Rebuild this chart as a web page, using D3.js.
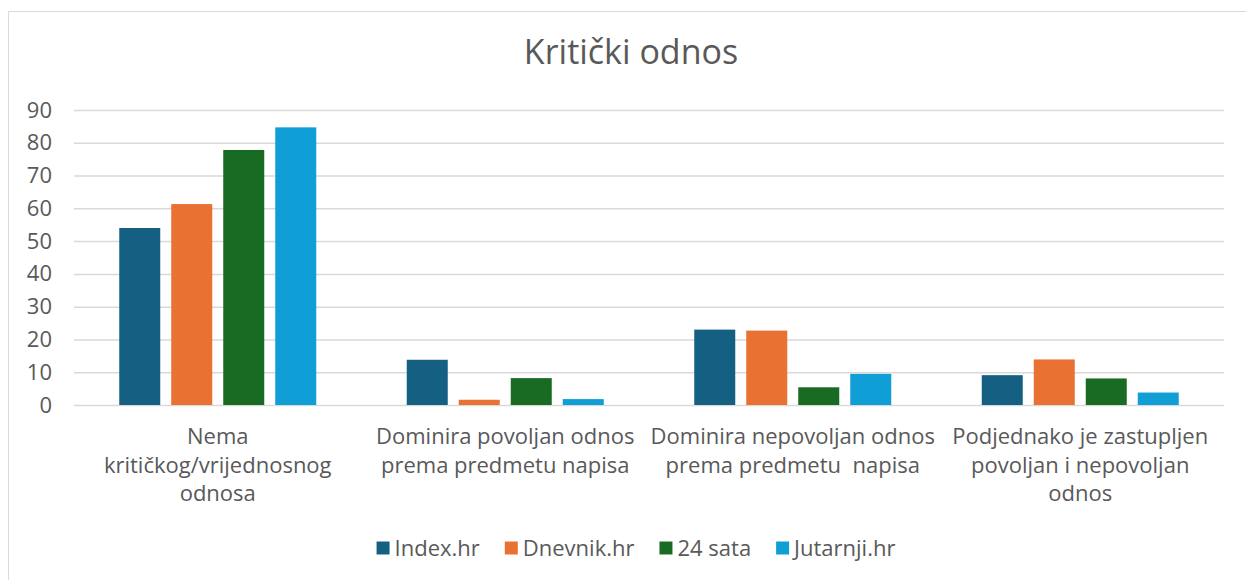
<!DOCTYPE html>
<html>
<head>
<meta charset="utf-8">
<script src="https://cdn.jsdelivr.net/npm/d3@7"></script>
<style>
  html, body { margin: 0; padding: 0; background: #fff; }
  svg { display: block; font-family: "Open Sans", "Noto Sans", sans-serif; }
</style>
</head>
<body>
<svg id="chart" width="1246" height="580"></svg>
<script>
const title = "Kritički odnos";
const categories = [
  "Nema\nkritičkog/vrijednosnog\nodnosa",
  "Dominira povoljan odnos\nprema predmetu napisa",
  "Dominira nepovoljan odnos\nprema predmetu  napisa",
  "Podjednako je zastupljen\npovoljan i nepovoljan\nodnos"
];
const seriesNames = ["Index.hr", "Dnevnik.hr", "24 sata", "Jutarnji.hr"];
const seriesColors = ["#156082", "#E97132", "#196B24", "#0F9ED5"];
const indexHr   = [54, 13.8, 23, 9.1];
const dnevnikHr = [61.3, 1.6, 22.7, 13.9];
const sata24    = [77.8, 8.2, 5.4, 8.1];
const jutarnjiHr = [84.7, 1.8, 9.5, 3.8];
const yTicks = [0, 10, 20, 30, 40, 50, 60, 70, 80, 90];

const seriesValues = [indexHr, dnevnikHr, sata24, jutarnjiHr];

const svg = d3.select("#chart");
const textColor = "#595959";
const fontFam = "'Open Sans', 'Noto Sans', sans-serif";
const fs = 22;

// chart border
svg.append("rect").attr("x", 8.5).attr("y", 11.5).attr("width", 1250).attr("height", 580)
  .attr("fill", "none").attr("stroke", "#d9d9d9").attr("stroke-width", 1);

// title
svg.append("text").attr("x", 631).attr("y", 64).attr("text-anchor", "middle")
  .attr("fill", textColor).attr("font-size", 34).text(title);

const plotLeft = 74, plotRight = 1224, plotTop = 110, plotBottom = 405;

const x0 = d3.scaleBand().domain(categories).range([plotLeft, plotRight]).paddingInner(0).paddingOuter(0);
const groupW = 197;
const x1 = d3.scaleBand().domain(seriesNames)
  .range([(x0.bandwidth() - groupW) / 2, (x0.bandwidth() + groupW) / 2])
  .paddingInner(11 / 52).paddingOuter(0);
const y = d3.scaleLinear().domain([0, 90]).range([plotBottom, plotTop]);

// gridlines
const yAxis = d3.axisLeft(y).tickValues(yTicks).tickSize(-(plotRight - plotLeft)).tickPadding(22);
const gy = svg.append("g").attr("transform", `translate(${plotLeft},0)`).call(yAxis);
gy.select(".domain").remove();
gy.selectAll(".tick line").attr("stroke", "#d9d9d9").attr("stroke-width", 1.5);
gy.selectAll(".tick text").attr("fill", textColor).attr("font-size", fs)
  .attr("font-family", fontFam);

// bars
const groups = svg.append("g").selectAll("g").data(categories).join("g")
  .attr("transform", d => `translate(${x0(d)},0)`);
groups.selectAll("rect")
  .data((d, ci) => seriesNames.map((s, si) => ({ s, si, v: seriesValues[si][ci] })))
  .join("rect")
  .attr("x", d => x1(d.s))
  .attr("width", x1.bandwidth())
  .attr("y", d => y(d.v))
  .attr("height", d => y(0) - y(d.v))
  .attr("fill", d => seriesColors[d.si]);

// category labels
const lineH = 28.5;
const catG = svg.append("g");
categories.forEach(c => {
  const cx = x0(c) + x0.bandwidth() / 2;
  const t = catG.append("text").attr("text-anchor", "middle").attr("fill", textColor)
    .attr("font-size", fs).style("white-space", "pre");
  c.split("\n").forEach((line, i) => {
    t.append("tspan").attr("x", cx).attr("y", 444 + i * lineH).text(line);
  });
});

// legend
const legend = svg.append("g");
const items = legend.selectAll("g").data(seriesNames).join("g");
items.append("rect").attr("width", 13).attr("height", 13).attr("y", -6.5)
  .attr("fill", (d, i) => seriesColors[i]);
items.append("text").attr("x", 18).attr("dy", "0.35em").attr("font-size", fs)
  .attr("fill", textColor).text(d => d);
let xpos = 0;
const positions = [];
items.each(function () {
  const w = 18 + this.querySelector("text").getComputedTextLength();
  positions.push(xpos);
  xpos += w + 25;
});
const totalW = xpos - 25;
items.attr("transform", (d, i) => `translate(${positions[i]},0)`);
legend.attr("transform", `translate(${636 - totalW / 2},548)`);
</script>
</body>
</html>
